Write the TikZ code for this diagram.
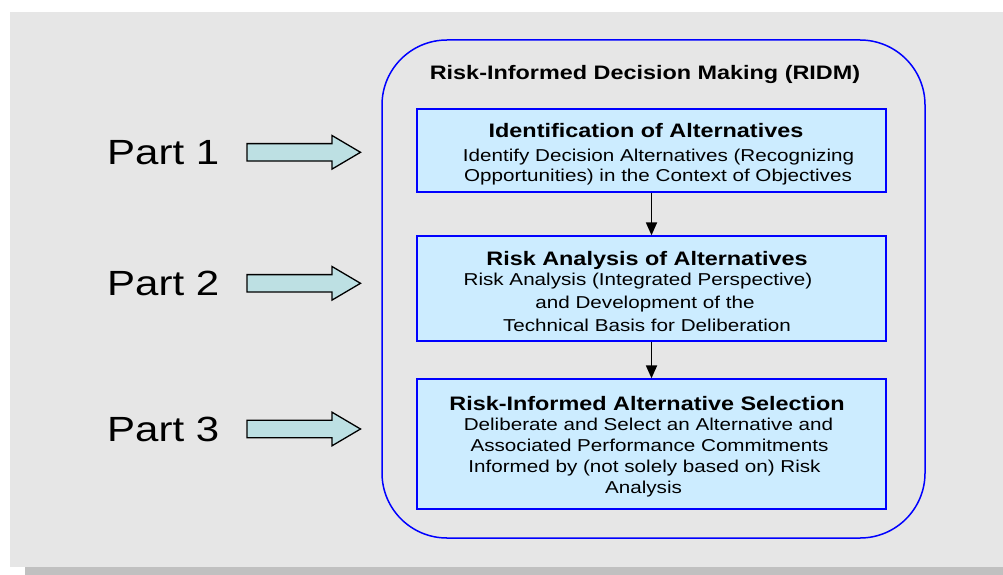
\documentclass[tikz,border=0pt]{standalone}
\usepackage{fontspec}
\setmainfont{Liberation Sans}[FakeStretch=1.2]
\usetikzlibrary{arrows.meta}
\definecolor{panelgray}{RGB}{230,230,230}
\definecolor{shadowgray}{RGB}{192,192,192}
\definecolor{boxblue}{RGB}{204,236,255}
\definecolor{arrowfill}{RGB}{189,224,227}
\definecolor{framblue}{RGB}{0,0,255}
\tikzset{
  panel/.style={fill=panelgray, draw=none},
  shadowbox/.style={fill=shadowgray, draw=none},
  frame/.style={draw=framblue, line width=1.5, rounded corners=65, inner sep=0},
  stagebox/.style={draw=framblue, fill=boxblue, line width=1.3, minimum width=469, inner sep=0},
  headtxt/.style={font=\fontsize{19.5}{22}\selectfont\bfseries, anchor=base, inner sep=0},
  subtxt/.style={font=\fontsize{17.2}{20}\selectfont, anchor=base, inner sep=0},
  parttxt/.style={font=\fontsize{35}{40}\selectfont, anchor=base west, inner sep=0},
  blockarrow/.style={draw=black, fill=arrowfill, line width=1.3, line join=miter},
  flow/.style={draw=black, line width=1.8, -{Triangle[length=13,width=11]}}
}
\begin{document}
\begin{tikzpicture}[x=1pt,y=-1pt]
\useasboundingbox (0,0) rectangle (1003,575);
% background
\fill[shadowbox] (25,20) rectangle (1003,575);
\fill[panel] (10,12) rectangle (1003,567);
% frame
\node[frame, minimum width=543, minimum height=498] (ridm) at (653.5,289) {};
\node[headtxt] (title) at (645,80) {Risk-Informed Decision Making (RIDM)};
% stage boxes
\node[stagebox, minimum height=83] (b1) at (651.5,150.5) {};
\node[stagebox, minimum height=105] (b2) at (651.5,288.5) {};
\node[stagebox, minimum height=130] (b3) at (651.5,444) {};
\draw[flow] (b1) -- (b2);
\draw[flow] (b2) -- (b3);
% box 1 text
\node[headtxt] (h1) at (646,137.7) {Identification of Alternatives};
\node[subtxt] (t11) at (658.5,161.7) {Identify Decision Alternatives (Recognizing};
\node[subtxt] (t12) at (658,181.7) {Opportunities) in the Context of Objectives};
% box 2 text
\node[headtxt] (h2) at (647,265) {Risk Analysis of Alternatives};
\node[subtxt] (t21) at (638,285.7) {Risk Analysis (Integrated Perspective)};
\node[subtxt] (t22) at (645,308.3) {and Development of the};
\node[subtxt] (t23) at (647,331.7) {Technical Basis for Deliberation};
% box 3 text
\node[headtxt] (h3) at (647,410) {Risk-Informed Alternative Selection};
\node[subtxt] (t31) at (648.5,430) {Deliberate and Select an Alternative and};
\node[subtxt] (t32) at (649.5,451.7) {Associated Performance Commitments};
\node[subtxt] (t33) at (644.5,472.3) {Informed by (not solely based on) Risk};
\node[subtxt] (t34) at (643.5,493.3) {Analysis};
% part labels
\node[parttxt] (p1) at (107,164) {Part 1};
\node[parttxt] (p2) at (107,295) {Part 2};
\node[parttxt] (p3) at (107,441) {Part 3};
% block arrows
\foreach \yc in {152.3,283.3,429}{
  \draw[blockarrow] (247,\yc-8.7) -- (332,\yc-8.7) -- (332,\yc-16.8) -- (360.5,\yc)
    -- (332,\yc+16.8) -- (332,\yc+8.7) -- (247,\yc+8.7) -- cycle;
}
\end{tikzpicture}
\end{document}
